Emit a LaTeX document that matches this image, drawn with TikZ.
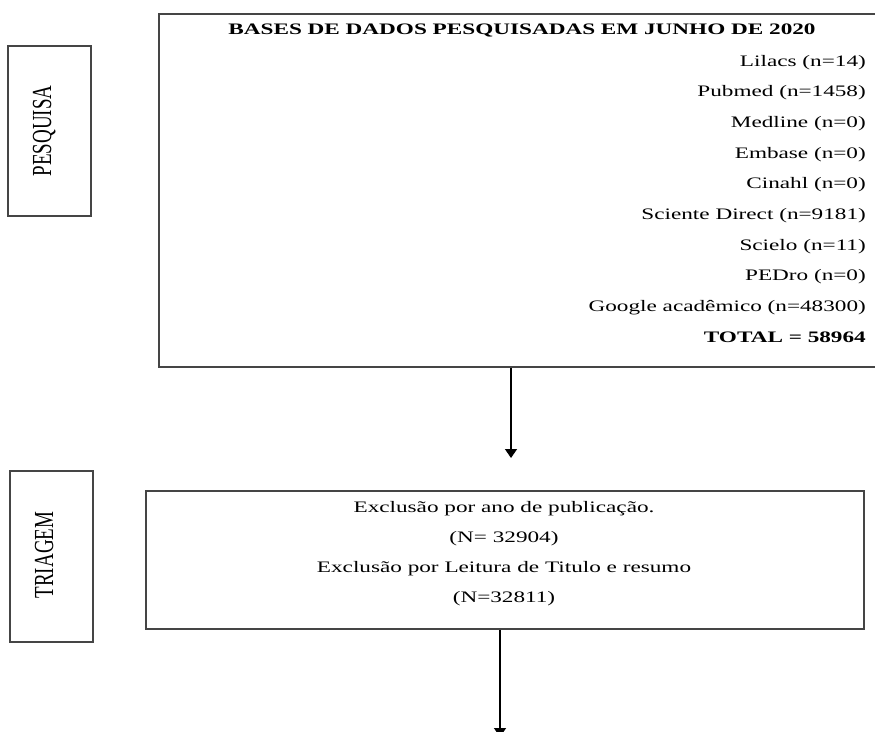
\documentclass[tikz,border=0pt]{standalone}
\usepackage{fontspec}
\usepackage{graphicx}
\setmainfont{Liberation Serif}
\usetikzlibrary{arrows.meta}
\definecolor{boxline}{HTML}{454545}
\newcommand{\wtxt}[1]{\scalebox{1.45}[1]{#1}}
\newcommand{\vtxt}[1]{\scalebox{1}[1.45]{#1}}
\begin{document}
\begin{tikzpicture}[x=1pt,y=-1pt,
  boxstyle/.style={draw=boxline, line width=1.5pt, rectangle, inner sep=0pt},
  itemtxt/.style={inner sep=0pt, anchor=base east, font=\fontsize{16pt}{19pt}\selectfont},
  ctrtxt/.style={inner sep=0pt, anchor=base, font=\fontsize{16pt}{19pt}\selectfont},
  sidetxt/.style={inner sep=0pt, anchor=base, rotate=90, font=\fontsize{19pt}{22pt}\selectfont},
  arr/.style={draw=black, line width=1.4pt, -{Triangle[width=12pt,length=9pt]}}]
\useasboundingbox (0,0) rectangle (875,731);
\clip (0,0) rectangle (875,731);
\fill[white] (0,0) rectangle (875,731);

% side labels
\node[boxstyle, minimum width=83pt, minimum height=170pt] (pesq) at (49.5,131) {};
\node[sidetxt] (pesqt) at (51,131) {\vtxt{PESQUISA}};
\node[boxstyle, minimum width=83pt, minimum height=171pt] (triag) at (51.5,556.5) {};
\node[sidetxt] (triagt) at (53,555) {\vtxt{TRIAGEM}};

% main box
\node[boxstyle, minimum width=726pt, minimum height=353pt] (bases) at (522,190.5) {};
\node[ctrtxt, font=\fontsize{16pt}{19pt}\selectfont\bfseries] (hdr) at (522,34) {\wtxt{BASES DE DADOS PESQUISADAS EM JUNHO DE 2020}};
\node[itemtxt] (l1) at (866,66) {\wtxt{Lilacs (n=14)}};
\node[itemtxt] (l2) at (866,96.7) {\wtxt{Pubmed (n=1458)}};
\node[itemtxt] (l3) at (866,127.4) {\wtxt{Medline (n=0)}};
\node[itemtxt] (l4) at (866,158.1) {\wtxt{Embase (n=0)}};
\node[itemtxt] (l5) at (866,188.8) {\wtxt{Cinahl (n=0)}};
\node[itemtxt] (l6) at (866,219.5) {\wtxt{Sciente Direct (n=9181)}};
\node[itemtxt] (l7) at (866,250.2) {\wtxt{Scielo (n=11)}};
\node[itemtxt] (l8) at (866,280.9) {\wtxt{PEDro (n=0)}};
\node[itemtxt] (l9) at (866,311.6) {\wtxt{Google acadêmico (n=48300)}};
\node[itemtxt, font=\fontsize{16pt}{19pt}\selectfont\bfseries] (l10) at (866,342.3) {\wtxt{TOTAL = 58964}};

% triage box
\node[boxstyle, minimum width=718pt, minimum height=138pt] (excl) at (505,560) {};
\node[ctrtxt] (e1) at (504,512) {\wtxt{Exclusão por ano de publicação.}};
\node[ctrtxt] (e2) at (504,542) {\wtxt{(N= 32904)}};
\node[ctrtxt] (e3) at (504,572) {\wtxt{Exclusão por Leitura de Titulo e resumo}};
\node[ctrtxt] (e4) at (504,602) {\wtxt{(N=32811)}};

% connectors
\coordinate (a1) at (511,458);
\coordinate (a2) at (500,737);
\draw[arr] (a1 |- bases.south) -- (a1);
\draw[arr] (a2 |- excl.south) -- (a2);
\end{tikzpicture}
\end{document}
